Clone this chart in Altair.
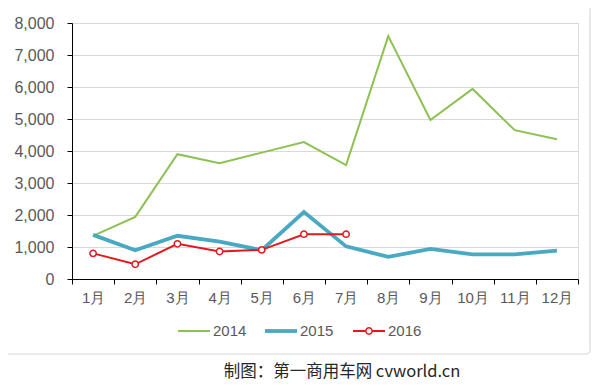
import altair as alt
import pandas as pd

months = ["1月", "2月", "3月", "4月", "5月", "6月", "7月", "8月", "9月", "10月", "11月", "12月"]
s2014 = [1350, 1940, 3900, 3620, 3950, 4280, 3560, 7590, 4970, 5940, 4650, 4370]
s2015 = [1380, 900, 1350, 1170, 900, 2090, 1020, 690, 940, 770, 770, 890]
s2016 = [800, 460, 1100, 860, 910, 1400, 1400]
series = ["2014", "2015", "2016"]
colors = ["#8dc153", "#4aa9c2", "#e3181d"]
widths = [2, 3.8, 2]

FONT = "Liberation Sans"

x = alt.X("month:N", sort=months, title=None,
          axis=alt.Axis(tickBand="extent", labelAngle=0, domainColor="#000000",
                        tickColor="#000000", tickSize=5, labelPadding=6,
                        labelFontSize=15, labelColor="#595959", grid=False, labelFont=FONT))
y = alt.Y("value:Q", title=None, scale=alt.Scale(domain=[0, 8000], nice=False),
          axis=alt.Axis(values=list(range(0, 8001, 1000)), format=",.0f", domainColor="#000000",
                        tickColor="#000000", tickSize=5, labelPadding=13, labelFontSize=16,
                        labelColor="#595959", gridColor="#d9d9d9", labelFont=FONT))

frame = alt.Chart(pd.DataFrame({"a": [0]})).mark_rect(
    fill=None, stroke="#d9d9d9", strokeWidth=1.2, cornerRadius=4, clip=False
).encode(x=alt.value(-68), x2=alt.value(518), y=alt.value(-17), y2=alt.value(331))

layers = [frame]
for name, vals, c, w in zip(series, [s2014, s2015, s2016], colors, widths):
    d = pd.DataFrame({"month": months[:len(vals)], "value": vals})
    layers.append(alt.Chart(d).mark_line(color=c, strokeWidth=w).encode(x=x, y=y))
    if name == "2016":
        layers.append(alt.Chart(d).mark_point(
            shape="circle", size=40, filled=True, fill="white", stroke=c, strokeWidth=1.5, opacity=1
        ).encode(x=x, y=y))

# legend (manual, to show per-series widths and marker)
lx = [106, 193, 281]
for name, c, w, x0 in zip(series, colors, widths, lx):
    ld = pd.DataFrame({"t": [name]})
    layers.append(alt.Chart(ld).mark_rule(color=c, strokeWidth=w, clip=False).encode(
        x=alt.value(x0), x2=alt.value(x0 + 32), y=alt.value(308)))
    if name == "2016":
        layers.append(alt.Chart(ld).mark_point(
            shape="circle", size=40, filled=True, fill="white", stroke=c, strokeWidth=1.5, opacity=1,
            clip=False).encode(x=alt.value(x0 + 16), y=alt.value(308)))
    layers.append(alt.Chart(ld).mark_text(
        fontSize=15, font=FONT, color="#595959", align="left", baseline="middle", clip=False
    ).encode(x=alt.value(x0 + 35), y=alt.value(308), text="t:N"))

caption = alt.Chart(pd.DataFrame({"t": ["制图：第一商用车网 cvworld.cn"]})).mark_text(
    fontSize=16.5, font="Noto Sans CJK SC", color="#262626", align="center", baseline="middle"
).encode(x=alt.value(270), y=alt.value(349), text="t:N")
layers.append(caption)

chart = alt.layer(*layers).properties(
    width=506, height=256,
    padding={"left": 64, "top": 15, "right": 16, "bottom": 107},
    autosize=alt.AutoSizeParams(type="none"),
).configure_view(stroke=None).configure(background="white")

chart.save("out.html", embed_options={"renderer": "svg", "actions": False})
